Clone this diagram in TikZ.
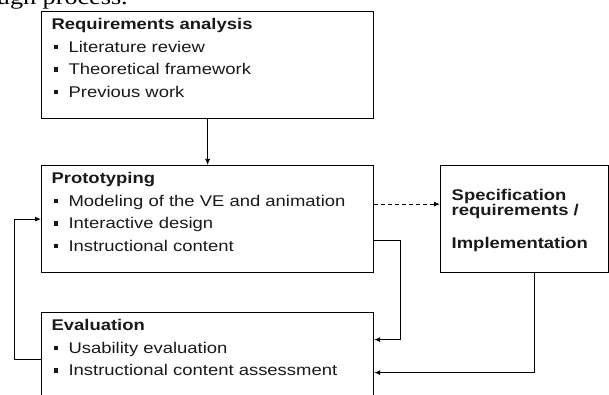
\documentclass[tikz,border=0pt]{standalone}
\usepackage{fontspec}
\setmainfont[FakeStretch=1.19]{Liberation Sans}
\newfontfamily\capfont[FakeStretch=1.19]{Liberation Serif}
\usetikzlibrary{arrows.meta}
\newcommand{\bul}{\hspace*{2pt}\rule[3pt]{4.5pt}{4.5pt}\hspace{10.5pt}}
\newcommand{\boxtext}[2]{\parbox[t][107pt][t]{#1}{\fontsize{15.5pt}{22.5pt}\selectfont\rule{0pt}{18pt}#2}}
\begin{document}
\begin{tikzpicture}[x=1pt, y=-1pt]
    % Define styles for nodes and arrows
    \tikzstyle{stage} = [rectangle, draw=black, line width=1.2pt, inner xsep=10pt, inner ysep=0pt, anchor=north west, text=black!90, align=left]
    \tikzstyle{outcome} = [rectangle, draw=black, line width=1.2pt, minimum width=168pt, minimum height=107pt, inner sep=0pt, anchor=north west, text=black!90]
    \tikzset{flowArrow/.style={line width=0.9pt, ->, >={Latex[length=6pt,width=5pt]}, draw=black}}
    \useasboundingbox (0,0) rectangle (609,395);
    \clip (0,0) rectangle (609,395);
    % Caption line cut off at the top
    \node (caption) [anchor=base east, inner sep=0pt] at (128,4.5) {\capfont\fontsize{22pt}{24pt}\selectfont through process.};
    % Nodes
    \node (req) [stage] at (41,11) {\boxtext{312pt}{\textbf{Requirements analysis}\\
        \bul Literature review\\
        \bul Theoretical framework\\
        \bul Previous work}};
    \node (proto) [stage] at (41,165) {\boxtext{312pt}{\textbf{Prototyping}\\
        \bul Modeling of the VE and animation\\
        \bul Interactive design\\
        \bul Instructional content}};
    \node (eval) [stage] at (41,312) {\boxtext{312pt}{\textbf{Evaluation}\\
        \bul Usability evaluation\\
        \bul Instructional content assessment}};
    \node (spec) [outcome] at (440,165) {};
    \node (spectext) [anchor=base west, inner sep=0pt, align=left, font=\bfseries\fontsize{15.5pt}{15pt}\selectfont, text=black!90] at (451.5,248) {Specification\\requirements /\\[18pt]Implementation};
    % Arrows (connections)
    \draw [flowArrow] (req) -- (proto);
    \draw [flowArrow, dashed, dash pattern=on 4pt off 3pt] ([yshift=15pt]proto.east) -- ([yshift=15pt]spec.west);
    \draw [flowArrow] ([yshift=6.5pt]eval.west) -- ++(-27,0) |- (proto.west);
    \draw [flowArrow] ([yshift=-21pt]proto.east) -- ++(26,0) |- ([yshift=26.5pt]eval.east);
    \draw [flowArrow] ([xshift=10pt]spec.south) |- ([yshift=-6.5pt]eval.east);
\end{tikzpicture}
\end{document}
